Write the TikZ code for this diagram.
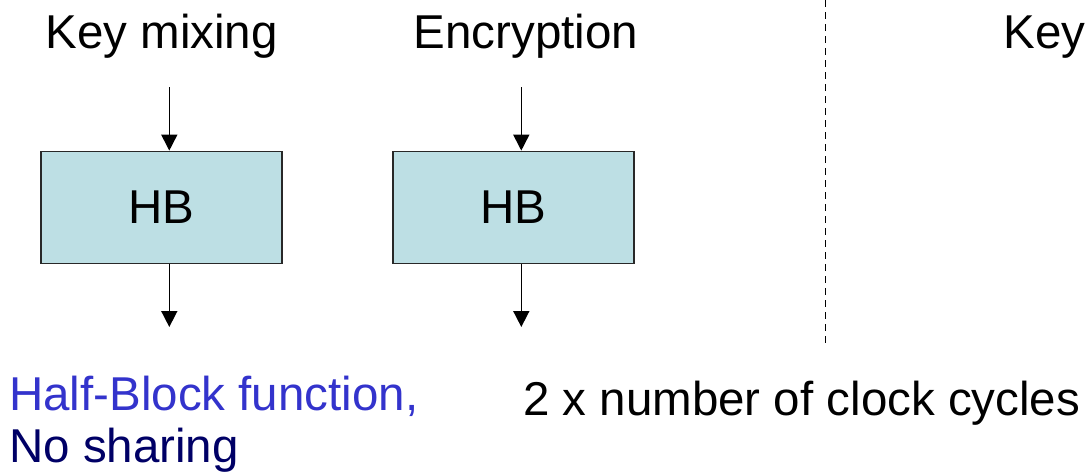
\documentclass[tikz,border=0pt]{standalone}
\usepackage{fontspec}
\setmainfont{Liberation Sans}
\usetikzlibrary{arrows.meta}
\definecolor{hbfill}{RGB}{189,223,228}
\definecolor{hbline}{RGB}{40,40,40}
\definecolor{notehead}{RGB}{51,51,204}
\definecolor{notebody}{RGB}{0,0,102}
\tikzset{
  lbl/.style={inner sep=0pt, anchor=base, font=\fontsize{47.5}{57}\selectfont},
  lblw/.style={lbl, anchor=base west},
  hbbox/.style={draw=hbline, fill=hbfill, line width=1.8pt, minimum width=241pt,
    minimum height=112pt, inner sep=0pt, font=\fontsize{47.5}{57}\selectfont},
  flow/.style={line width=1.6pt, -{Triangle[width=16pt,length=16pt]}},
  divider/.style={line width=1.3pt, dash pattern=on 7pt off 5pt}
}
\begin{document}
\begin{tikzpicture}[x=1pt, y=-1pt]
  \useasboundingbox (0,0) rectangle (1092,475);

  % column titles
  \node[lbl] (tkey) at (161.7,48) {Key mixing};
  \node[lbl] (tenc) at (526,48) {Encryption};
  \node[lblw] (tkey2) at (1003.5,48) {Key};

  % half-block units
  \node[hbbox] (b1) at (161.5,207.5) {HB};
  \node[hbbox] (b2) at (513.4,207.5) {HB};

  % inputs and outputs
  \coordinate (in1) at (169.3,87);
  \coordinate (out1) at (169.3,327);
  \coordinate (in2) at (521.3,87);
  \coordinate (out2) at (521.3,327);
  \draw[flow] (in1) -- (in1 |- b1.north);
  \draw[flow] (in1 |- b1.south) -- (out1);
  \draw[flow] (in2) -- (in2 |- b2.north);
  \draw[flow] (in2 |- b2.south) -- (out2);

  % separator between the two schemes
  \coordinate (sepTop) at (825.7,0);
  \coordinate (sepBot) at (825.7,343);
  \draw[divider] (sepTop) -- (sepBot);

  % notes
  \node[lblw, text=notehead] (n1) at (9,410) {Half-Block function,};
  \node[lblw, text=notebody] (n2) at (9,462) {No sharing};
  \node[lblw] (n3) at (523,415) {2 x number of clock cycles};
\end{tikzpicture}
\end{document}
